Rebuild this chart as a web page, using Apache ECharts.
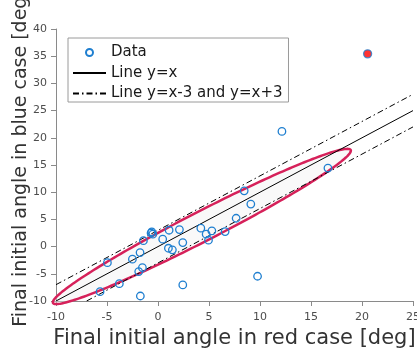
<!DOCTYPE html>
<html>
<head>
<meta charset="utf-8">
<script src="https://cdn.jsdelivr.net/npm/echarts@6/dist/echarts.min.js"></script>
<style>
html,body{margin:0;padding:0;background:#fff;}
#chart{width:417px;height:349px;}
</style>
</head>
<body>
<div id="chart"></div>
<script>
// Data points: [red case, blue case]
const dataRed = [-5.68, -4.96, -3.79, -2.51, -1.76, -1.89, -1.53, -1.73, -1.43, -0.61, -0.51, -0.68, 0.46, 1.09, 1.02, 1.41, 2.10, 2.43, 2.43, 4.20, 4.72, 5.28, 4.95, 6.58, 7.66, 8.45, 9.10, 9.76, 12.15, 16.66];
const dataBlue = [-8.29, -2.95, -6.81, -2.32, -1.10, -4.60, -3.87, -9.08, 1.08, 2.71, 2.28, 2.50, 1.36, 3.01, -0.30, -0.60, 3.13, 0.74, -7.05, 3.39, 2.28, 2.89, 1.18, 2.76, 5.21, 10.26, 7.81, -5.45, 21.18, 14.44];
// Highlighted point (red fill)
const highlightPoint = [20.55, 35.43];
// Reference lines
const lineEqual = [[-10, -10], [25, 25]];
const lineUpper = [[-10, -7], [25, 28]];
const lineLower = [[-7, -10], [25, 22]];
// Ellipse annotation: center, semi-axes, angle (deg)
const ellipseCenter = [4.3, 3.7];
const ellipseSemiAxes = [20.3, 2.2];
const ellipseAngle = [44.3];
// Axis ticks
const xTicks = [-10, 25, 5];
const yTicks = [-10, 40, 5];

const blue = '#1f7fd0';
const axisColor = '#8a8a8a';
const labelColor = '#4d4d4d';
const font = 'DejaVu Sans';

const scatterData = dataRed.map((x, i) => [x, dataBlue[i]]);

const chart = echarts.init(document.getElementById('chart'), null, {renderer: 'canvas'});

function ellipseRender(params, api) {
  const cx = ellipseCenter[0], cy = ellipseCenter[1];
  const a = ellipseSemiAxes[0], b = ellipseSemiAxes[1];
  const th = ellipseAngle[0] * Math.PI / 180;
  const pts = [];
  const n = 240;
  for (let i = 0; i < n; i++) {
    const t = 2 * Math.PI * i / n;
    const ex = a * Math.cos(t), ey = b * Math.sin(t);
    const x = cx + ex * Math.cos(th) - ey * Math.sin(th);
    const y = cy + ex * Math.sin(th) + ey * Math.cos(th);
    pts.push(api.coord([x, y]));
  }
  return {
    type: 'polygon',
    shape: {points: pts},
    style: {fill: 'rgba(240,240,240,0.4)', stroke: '#d6215a', lineWidth: 2.5}
  };
}

const legendLineName = 'Line y=x-3 and y=x+3';
const noSymbol = {color: 'rgba(0,0,0,0)', borderWidth: 0};

chart.setOption({
  animation: false,
  backgroundColor: '#fff',
  grid: {left: 56, right: 4, top: 29, bottom: 48, containLabel: false, outerBoundsMode: 'none'},
  xAxis: {
    type: 'value', min: xTicks[0], max: xTicks[1], interval: xTicks[2],
    name: 'Final initial angle in red case [deg]',
    nameLocation: 'middle', nameGap: 22,
    nameTextStyle: {fontFamily: font, fontSize: 21, color: '#333333'},
    axisLine: {show: true, onZero: false, lineStyle: {color: axisColor, width: 1}},
    axisTick: {show: true, inside: false, length: 5, lineStyle: {color: axisColor}},
    axisLabel: {show: true, fontFamily: font, fontSize: 11, color: labelColor, margin: 11, showMinLabel: true, showMaxLabel: true},
    splitLine: {show: false}
  },
  yAxis: {
    type: 'value', min: yTicks[0], max: yTicks[1], interval: yTicks[2],
    name: 'Final initial angle in blue case [deg]',
    nameLocation: 'middle', nameGap: 25, nameMoveOverlap: false,
    nameTextStyle: {fontFamily: font, fontSize: 19, color: '#333333', padding: [0, 0, 0, 14]},
    axisLine: {show: true, onZero: false, lineStyle: {color: axisColor, width: 1}},
    axisTick: {show: true, inside: false, length: 5, lineStyle: {color: axisColor}},
    axisLabel: {show: true, fontFamily: font, fontSize: 11, color: labelColor, margin: 9, showMinLabel: true, showMaxLabel: true},
    splitLine: {show: false}
  },
  legend: {
    show: true,
    orient: 'vertical',
    left: 68, top: 38,
    backgroundColor: '#ffffff',
    borderColor: '#9a9a9a', borderWidth: 1,
    padding: [7, 6, 1, 4],
    itemWidth: 33, itemHeight: 7, itemGap: 5.5,
    textStyle: {fontFamily: font, fontSize: 15, color: '#1a1a1a'},
    data: [
      {name: 'Data', icon: 'emptyCircle', itemStyle: {color: blue, borderColor: blue, borderWidth: 1.3}},
      {name: 'Line y=x', itemStyle: noSymbol},
      {name: legendLineName, itemStyle: noSymbol}
    ]
  },
  series: [
    {
      type: 'custom', name: 'ellipse', coordinateSystem: 'cartesian2d',
      renderItem: ellipseRender, data: [ellipseCenter], z: 1, silent: true, clip: false
    },
    {
      type: 'line', name: 'Line y=x', data: lineEqual, symbol: 'none', z: 2,
      lineStyle: {color: '#000', width: 1, type: 'solid'}, itemStyle: {color: '#000'}
    },
    {
      type: 'line', name: legendLineName, data: lineUpper, symbol: 'none', z: 2,
      lineStyle: {color: '#000', width: 1, type: [6, 3, 1.5, 3]}, itemStyle: {color: '#000'}
    },
    {
      type: 'line', name: legendLineName, data: lineLower, symbol: 'none', z: 2,
      lineStyle: {color: '#000', width: 1, type: [6, 3, 1.5, 3]}, itemStyle: {color: '#000'}
    },
    {
      type: 'scatter', name: 'Data', data: scatterData, symbol: 'circle', symbolSize: 7.5, z: 3,
      itemStyle: {color: 'rgba(255,255,255,0)', borderColor: blue, borderWidth: 1.3, opacity: 1}
    },
    {
      type: 'scatter', name: 'highlight', data: [highlightPoint], symbol: 'circle', symbolSize: 8, z: 4,
      itemStyle: {color: '#ff0000', borderColor: blue, borderWidth: 1.3}
    }
  ]
});
</script>
</body>
</html>
